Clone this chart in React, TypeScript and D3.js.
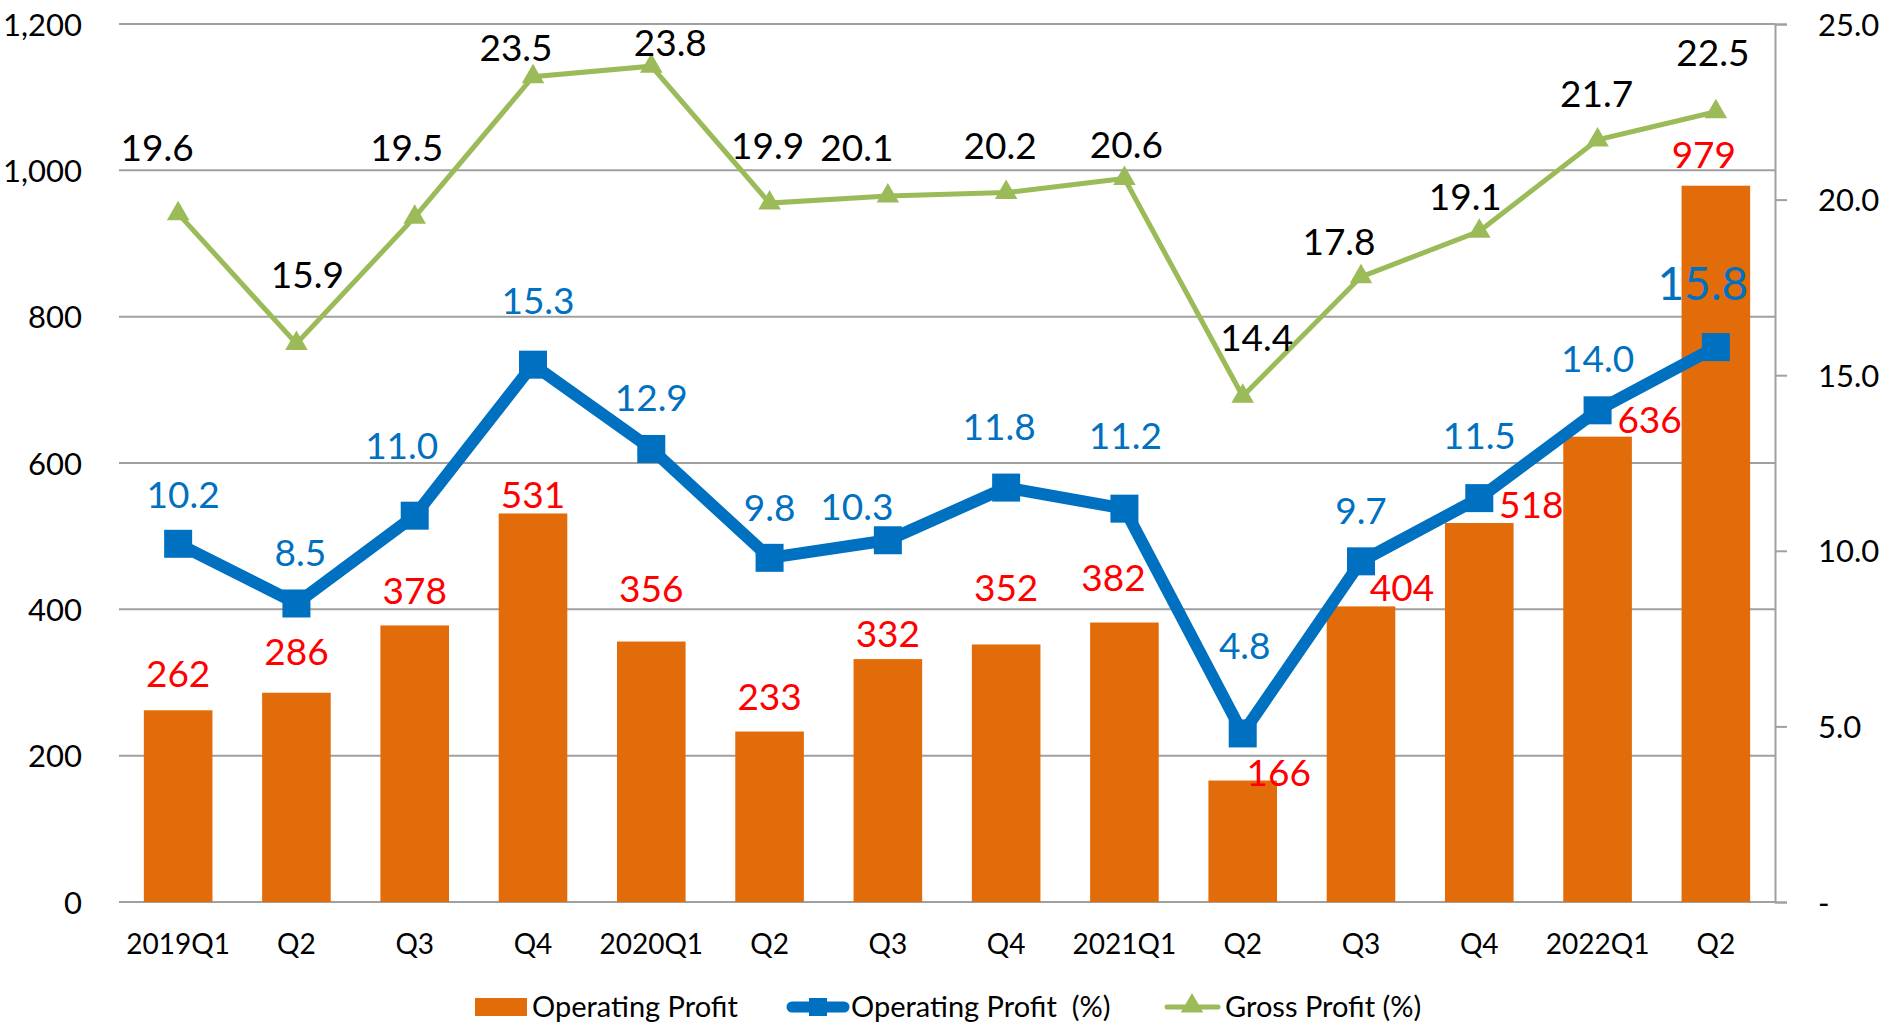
import React, { useEffect, useRef } from "react";
import * as d3 from "d3";

// quarters
const categories = ["2019Q1", "Q2", "Q3", "Q4", "2020Q1", "Q2 ", "Q3 ", "Q4 ", "2021Q1", "Q2  ", "Q3  ", "Q4  ", "2022Q1", "Q2   "];
const operatingProfit = [262, 286, 378, 531, 356, 233, 332, 352, 382, 166, 404, 518, 636, 979];
const operatingMargin = [10.2, 8.5, 11.0, 15.3, 12.9, 9.8, 10.3, 11.8, 11.2, 4.8, 9.7, 11.5, 14.0, 15.8];
const grossMargin = [19.6, 15.9, 19.5, 23.5, 23.8, 19.9, 20.1, 20.2, 20.6, 14.4, 17.8, 19.1, 21.7, 22.5];
const leftTicks = [0, 200, 400, 600, 800, 1000, 1200];
const rightTicks = [0, 5, 10, 15, 20, 25];

// label nudges (px) - labels were moved by hand in the original
const barLabelShift = [[0, -37], [0, -41], [0, -35], [0, -19], [0, -53], [0, -35], [0, -25], [0, -57], [-11, -45], [36, -8], [41, -19], [52, -18], [52, -17], [-12, -31]];
const opLabelShift = [[5, -49], [4, -51], [-13, -70], [5, -64], [0, -51], [0, -50], [-31, -34], [-7, -61], [1, -73], [2, -88], [0, -51], [0, -62], [0, -52], [-13, -64]];
const gpLabelShift = [[-21, -66], [11, -69], [-8, -69], [-17, -29], [19, -23], [-2, -57], [-31, -48], [-6, -47], [2, -34], [14, -59], [-22, -35], [-14, -35], [-1, -46], [-3, -59]];

const W = 1891, H = 1030;
const left = 119, right = 1775, top = 24, bottom = 902;
const FONT = "Lato, 'Open Sans', sans-serif";
const ORANGE = "#E36C0A", BLUE = "#0070C0", GREEN = "#9BBB59", RED = "#FF0000", GRID = "#A0A0A0";

const App = () => {
  const leftAxisRef = useRef<SVGGElement>(null);
  const rightAxisRef = useRef<SVGGElement>(null);
  const bottomAxisRef = useRef<SVGGElement>(null);

  const x = d3.scaleBand().domain(categories).range([left, right]).padding(0);
  const yL = d3.scaleLinear().domain([0, 1200]).range([bottom, top]);
  const yR = d3.scaleLinear().domain([0, 25]).range([bottom, top]);
  const barW = x.bandwidth() * 0.58;
  const cx = (i: number) => (x(categories[i]) as number) + x.bandwidth() / 2;

  useEffect(() => {
    document.body.style.margin = "0";

    const la = d3.select(leftAxisRef.current!);
    la.call(d3.axisLeft(yL).tickValues(leftTicks).tickSize(0).tickPadding(37).tickFormat(d3.format(",")) as any);
    la.select(".domain").remove();
    la.selectAll("text").attr("font-size", 31).attr("font-family", FONT).attr("fill", "#000").attr("dy", "0.36em");

    const ra = d3.select(rightAxisRef.current!);
    ra.call(d3.axisRight(yR).tickValues(rightTicks).tickSize(12).tickPadding(31)
      .tickFormat((d: any) => (d === 0 ? "-" : d3.format(".1f")(d))) as any);
    ra.select(".domain").attr("stroke", GRID).attr("stroke-width", 2);
    ra.selectAll("line").attr("stroke", GRID).attr("stroke-width", 2);
    ra.selectAll("text").attr("font-size", 31).attr("font-family", FONT).attr("fill", "#000").attr("dy", "0.36em");

    const ba = d3.select(bottomAxisRef.current!);
    ba.call(d3.axisBottom(x).tickSize(0).tickPadding(0).tickFormat((d: any) => d.trim()) as any);
    ba.select(".domain").remove();
    ba.selectAll("text").attr("font-size", 28).attr("font-family", FONT).attr("fill", "#000").attr("dy", 0).attr("y", 52);
  }, []);

  const opLine = d3.line<number>().x((_, i) => cx(i)).y((d) => yR(d));
  const gpLine = d3.line<number>().x((_, i) => cx(i)).y((d) => yR(d));
  const tri = d3.symbol().type(d3.symbolTriangle).size(220)();

  return (
    <svg width={W} height={H} style={{ display: "block", background: "#fff" }}>
      {/* gridlines */}
      {leftTicks.map((t) => (
        <line key={t} x1={left} x2={right} y1={yL(t)} y2={yL(t)} stroke={GRID} strokeWidth={2} />
      ))}
      <g ref={leftAxisRef} transform={`translate(${left},0)`} />
      <g ref={rightAxisRef} transform={`translate(${right},0)`} />
      <g ref={bottomAxisRef} transform={`translate(0,${bottom})`} />

      {/* bars */}
      {operatingProfit.map((v, i) => (
        <rect key={i} x={cx(i) - barW / 2} y={yL(v)} width={barW} height={bottom - yL(v)} fill={ORANGE} />
      ))}

      {/* gross profit % */}
      <path d={gpLine(grossMargin) || ""} fill="none" stroke={GREEN} strokeWidth={5} />
      {grossMargin.map((v, i) => (
        <path key={i} d={tri || ""} transform={`translate(${cx(i)},${yR(v)})`} fill={GREEN} />
      ))}

      {/* operating profit % */}
      <path d={opLine(operatingMargin) || ""} fill="none" stroke={BLUE} strokeWidth={12} strokeLinejoin="round" />
      {operatingMargin.map((v, i) => (
        <rect key={i} x={cx(i) - 14} y={yR(v) - 14} width={28} height={28} fill={BLUE} />
      ))}

      {/* labels */}
      <g fontFamily={FONT} textAnchor="middle">
        {grossMargin.map((v, i) => (
          <text key={i} x={cx(i) + gpLabelShift[i][0]} y={yR(v) + gpLabelShift[i][1]} dy="0.36em" fontSize={37} fill="#000">
            {v.toFixed(1)}
          </text>
        ))}
        {operatingProfit.map((v, i) => (
          <text key={i} x={cx(i) + barLabelShift[i][0]} y={yL(v) + barLabelShift[i][1]} dy="0.36em" fontSize={37} fill={RED}>
            {v}
          </text>
        ))}
        {operatingMargin.map((v, i) => (
          <text key={i} x={cx(i) + opLabelShift[i][0]} y={yR(v) + opLabelShift[i][1]} dy="0.36em"
            fontSize={i === operatingMargin.length - 1 ? 46 : 37} fill={BLUE}>
            {v.toFixed(1)}
          </text>
        ))}
      </g>

      {/* legend */}
      <g fontFamily={FONT} fontSize={29} fill="#000">
        <rect x={475} y={998} width={52} height={18} fill={ORANGE} />
        <text x={532} y={1007} dy="0.36em">Operating Profit</text>
        <line x1={792} x2={844} y1={1007} y2={1007} stroke={BLUE} strokeWidth={11} strokeLinecap="round" />
        <rect x={809} y={998} width={18} height={18} fill={BLUE} />
        <text x={851} y={1007} dy="0.36em" style={{ whiteSpace: "pre" }}>Operating Profit  (%)</text>
        <line x1={1167} x2={1218} y1={1007} y2={1007} stroke={GREEN} strokeWidth={5} strokeLinecap="round" />
        <path d={tri || ""} transform="translate(1192,1006)" fill={GREEN} />
        <text x={1225} y={1007} dy="0.36em">Gross Profit (%)</text>
      </g>
    </svg>
  );
};

export default App;
